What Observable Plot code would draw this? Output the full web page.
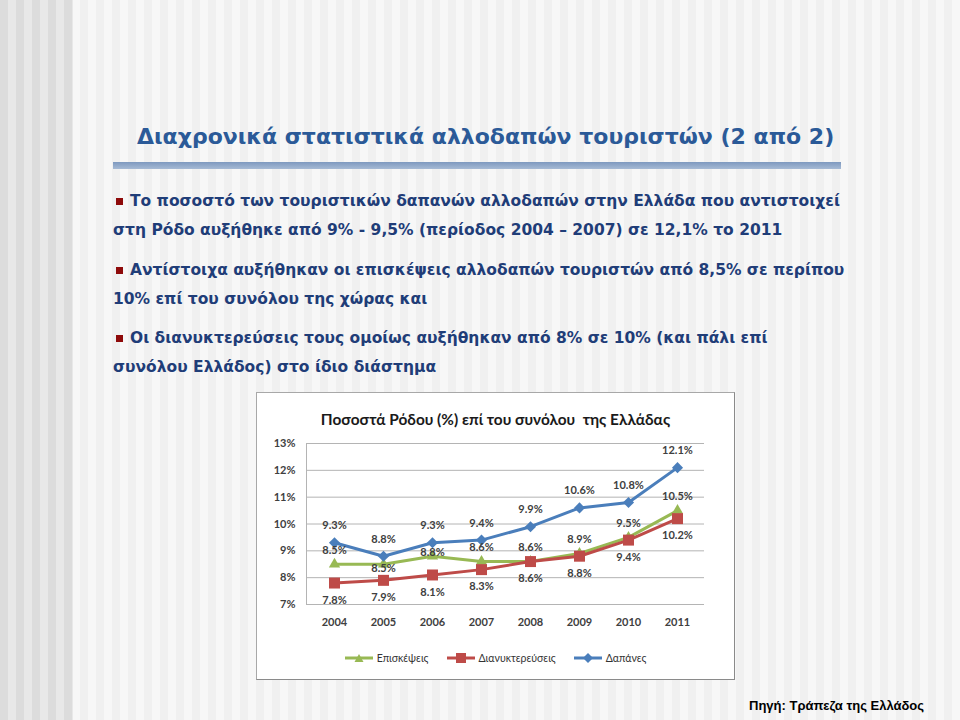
<!DOCTYPE html>
<html><head><meta charset="utf-8">
<script src="https://cdn.jsdelivr.net/npm/d3@7"></script>
<script src="https://cdn.jsdelivr.net/npm/@observablehq/plot@0.6"></script>
<style>
html,body{margin:0;padding:0;}
body{width:960px;height:720px;position:relative;overflow:hidden;
  background:repeating-linear-gradient(90deg,#f0f0f0 0 8px,#f7f7f7 8px 16px);}
#leftstrip{position:absolute;left:0;top:0;width:73px;height:720px;
  background:repeating-linear-gradient(90deg,#dcdcdc 0 8px,#e8e8e8 8px 16px);}
#title{position:absolute;left:137px;top:124px;font:bold 22px "DejaVu Sans",Verdana,sans-serif;color:#2b5a98;white-space:nowrap;line-height:26px;}
#bar{position:absolute;left:113px;top:162px;width:728px;height:7px;background:linear-gradient(#7e99bf,#a6bad5);}
.bl{position:absolute;font:bold 15.5px "DejaVu Sans",Verdana,sans-serif;color:#1f3d78;white-space:nowrap;line-height:20px;}
.sq{display:inline-block;width:7px;height:7px;background:#8e0a0a;margin-right:7px;vertical-align:1px;}
#box{position:absolute;left:256px;top:392px;width:477px;height:286px;background:#fff;border:1px solid #a8a8a8;border-right-color:#8a8a8a;border-bottom-color:#8a8a8a;}
#ctitle{position:absolute;left:0;width:477px;top:16px;text-align:center;font:bold 15.4px Lato,"Open Sans",sans-serif;color:#1a1a1a;line-height:20px;}
#chart{position:absolute;left:0;top:37px;}
#legend{position:absolute;left:0;width:477px;top:259px;display:flex;justify-content:center;gap:18px;font:10.5px Lato,"Open Sans",sans-serif;color:#333;align-items:center;}
#legend .it{display:flex;align-items:center;gap:4px;}
#src{position:absolute;left:749px;top:698px;font:bold 13px "Liberation Sans",Arial,sans-serif;color:#000;white-space:nowrap;}
</style></head><body>
<div id="leftstrip"></div>
<div id="title">Διαχρονικά στατιστικά αλλοδαπών τουριστών (2 από 2)</div>
<div id="bar"></div>
<div class="bl" style="left:116px;top:191px"><span class="sq"></span>Το ποσοστό των τουριστικών δαπανών αλλοδαπών στην Ελλάδα που αντιστοιχεί</div>
<div class="bl" style="left:113px;top:220px">στη Ρόδο αυξήθηκε από 9% - 9,5% (περίοδος 2004 – 2007) σε 12,1% το 2011</div>
<div class="bl" style="left:116px;top:260px"><span class="sq"></span>Αντίστοιχα αυξήθηκαν οι επισκέψεις αλλοδαπών τουριστών από 8,5% σε περίπου</div>
<div class="bl" style="left:113px;top:289px">10% επί του συνόλου της χώρας και</div>
<div class="bl" style="left:116px;top:328px"><span class="sq"></span>Οι διανυκτερεύσεις τους ομοίως αυξήθηκαν από 8% σε 10% (και πάλι επί</div>
<div class="bl" style="left:113px;top:357px">συνόλου Ελλάδος) στο ίδιο διάστημα</div>
<div id="box">
  <div id="ctitle">Ποσοστά Ρόδου (%) επί του συνόλου&nbsp; της Ελλάδας</div>
  <div id="chart"></div>
  <div id="legend"></div>
</div>
<div id="src">Πηγή: Τράπεζα της Ελλάδος</div>
<script>
const years = ["2004","2005","2006","2007","2008","2009","2010","2011"];
const visits = [8.5, 8.5, 8.8, 8.6, 8.6, 8.9, 9.5, 10.5];
const nights = [7.8, 7.9, 8.1, 8.3, 8.6, 8.8, 9.4, 10.2];
const spending = [9.3, 8.8, 9.3, 9.4, 9.9, 10.6, 10.8, 12.1];
const seriesNames = ["Επισκέψεις", "Διανυκτερεύσεις", "Δαπάνες"];
const yTicks = [7, 8, 9, 10, 11, 12, 13];

const colors = ["#98b954", "#be4b48", "#4a7ebb"];
const symbols = ["triangle", "square", "diamond2"];
const radii = [4.2, 6.2, 5];
const allValues = [visits, nights, spending];

const rows = allValues.map((vals, s) => years.map((year, i) => ({series: seriesNames[s], year, value: vals[i], idx: i})));
const fmt = d => d.value.toFixed(1) + "%";

const marks = [
  Plot.gridY(yTicks, {stroke: "#b4b4b4", strokeOpacity: 1}),
  Plot.frame({anchor: "left", stroke: "#b4b4b4"}),
  Plot.axisY(yTicks, {tickSize: 0, tickPadding: 11, tickFormat: d => d + "%", label: null}),
  Plot.axisX(years, {tickSize: 0, tickPadding: 14, label: null})
];
rows.forEach((r, s) => {
  marks.push(Plot.line(r, {x: "year", y: "value", stroke: colors[s], strokeWidth: 3}));
  marks.push(Plot.dot(r, {x: "year", y: "value", symbol: symbols[s], r: radii[s], fill: colors[s], stroke: "none"}));
});
// data labels
const tx = {x: "year", y: "value", text: fmt, fill: "#404040"};
marks.push(Plot.text(rows[2], {...tx, dy: -17}));
marks.push(Plot.text(rows[1], {...tx, dy: 17}));
marks.push(Plot.text(rows[0].filter(d => d.idx !== 1 && d.idx !== 2), {...tx, dy: -14}));
marks.push(Plot.text(rows[0].filter(d => d.idx === 1), {...tx, dy: 4}));
marks.push(Plot.text(rows[0].filter(d => d.idx === 2), {...tx, dy: -4}));

const chart = Plot.plot({
  width: 477, height: 205,
  marginLeft: 49, marginRight: 30, marginTop: 13, marginBottom: 31,
  style: {fontFamily: "Lato, 'Open Sans', sans-serif", fontSize: "11px", fontWeight: "bold", color: "#404040", background: "transparent", overflow: "visible"},
  x: {type: "point", domain: years, padding: 0.5, axis: null},
  y: {domain: [7, 13], axis: null},
  marks
});
document.getElementById("chart").appendChild(chart);

// legend
const legend = document.getElementById("legend");
const symPaths = {
  triangle: '<path d="M14,1 L18.5,9 L9.5,9 Z"/>',
  square: '<rect x="9" y="0" width="10" height="10"/>',
  diamond2: '<path d="M14,0 L19,5 L14,10 L9,5 Z"/>'
};
seriesNames.forEach((name, s) => {
  const it = document.createElement("div");
  it.className = "it";
  it.innerHTML = `<svg width="28" height="10"><line x1="0" x2="28" y1="5" y2="5" stroke="${colors[s]}" stroke-width="3"/><g fill="${colors[s]}">${symPaths[symbols[s]]}</g></svg><span>${name}</span>`;
  legend.appendChild(it);
});
</script>
</body></html>
